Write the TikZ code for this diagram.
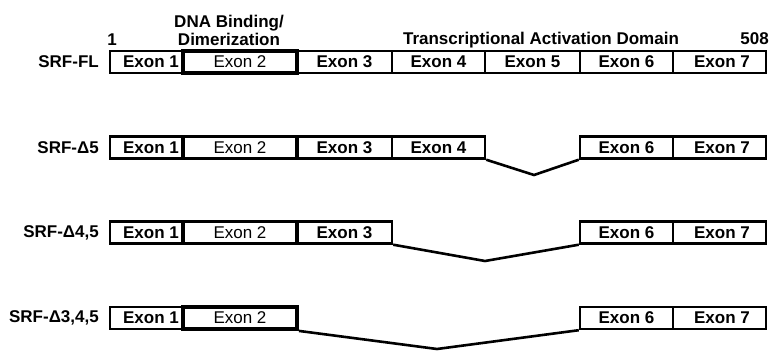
\documentclass[tikz,border=0pt]{standalone}
\usepackage{fontspec}
\setmainfont{Liberation Sans}
\begin{document}
\begin{tikzpicture}[x=1pt,y=-1pt,
  every node/.style={font=\fontsize{17}{20}\selectfont\bfseries},
  exon/.style={draw=black, line width=2.4pt, fill=white, rectangle, inner sep=0pt, minimum height=22pt},
  exontwo/.style={exon, line width=3.8pt, text=black, font=\fontsize{17}{20}\selectfont\mdseries},
  rowlabel/.style={anchor=east, inner sep=0pt},
  toplabel/.style={inner sep=0pt, anchor=base},
  splice/.style={draw=black, line width=2.6pt, line join=miter}]
\useasboundingbox (0,0) rectangle (769,351);
% headers
\node[toplabel] (one) at (112,45) {1};
\node[toplabel] (dna) at (229,27) {DNA Binding/};
\node[toplabel] (dim) at (229,45) {Dimerization};
\node[toplabel] (tad) at (541,44) {Transcriptional Activation Domain};
\node[toplabel, anchor=base east] (end) at (769,44) {508};
% Row 1: SRF-FL
\node[rowlabel] (l1) at (99,62) {SRF-FL};
\node[exon, minimum width=73pt] (a1) at (146.5,62) {\hspace*{9pt}Exon 1};
\node[exon, minimum width=95pt] (c1) at (344.5,62) {Exon 3};
\node[exon, minimum width=93pt] (d1) at (438.5,62) {Exon 4};
\node[exon, minimum width=95pt] (e1) at (532.5,62) {Exon 5};
\node[exon, minimum width=93pt] (f1) at (626.5,62) {Exon 6};
\node[exon, minimum width=93pt] (g1) at (719.5,62) {\hspace*{5pt}Exon 7};
\node[exontwo, minimum width=114pt] (b1) at (240,62) {Exon 2};
% Row 2: SRF-D5
\node[rowlabel] (l2) at (99,147.5) {SRF-Δ5};
\node[exon, minimum width=73pt] (a2) at (146.5,147.5) {\hspace*{9pt}Exon 1};
\node[exon, minimum width=95pt] (c2) at (344.5,147.5) {Exon 3};
\node[exon, minimum width=93pt] (d2) at (438.5,147.5) {Exon 4};
\node[exon, minimum width=93pt] (f2) at (626.5,147.5) {Exon 6};
\node[exon, minimum width=93pt] (g2) at (719.5,147.5) {\hspace*{5pt}Exon 7};
\node[exontwo, minimum width=114pt] (b2) at (240,147.5) {Exon 2};
\coordinate (v2) at (534,175);
\draw[splice] (d2.south east) -- (v2) -- (f2.south west);
% Row 3: SRF-D4,5
\node[rowlabel] (l3) at (99,232.5) {SRF-Δ4,5};
\node[exon, minimum width=73pt] (a3) at (146.5,232.5) {\hspace*{9pt}Exon 1};
\node[exon, minimum width=95pt] (c3) at (344.5,232.5) {Exon 3};
\node[exon, minimum width=93pt] (f3) at (626.5,232.5) {Exon 6};
\node[exon, minimum width=93pt] (g3) at (719.5,232.5) {\hspace*{5pt}Exon 7};
\node[exontwo, minimum width=114pt] (b3) at (240,232.5) {Exon 2};
\coordinate (v3) at (485,261);
\draw[splice] (c3.south east) -- (v3) -- (f3.south west);
% Row 4: SRF-D3,4,5
\node[rowlabel] (l4) at (99,318) {SRF-Δ3,4,5};
\node[exon, minimum width=73pt] (a4) at (146.5,318) {\hspace*{9pt}Exon 1};
\node[exon, minimum width=93pt] (f4) at (626.5,318) {Exon 6};
\node[exon, minimum width=93pt] (g4) at (719.5,318) {\hspace*{5pt}Exon 7};
\node[exontwo, minimum width=114pt] (b4) at (240,318) {Exon 2};
\coordinate (v4) at (437,349);
\draw[splice] (b4.south east) -- (v4) -- (f4.south west);
\end{tikzpicture}
\end{document}
